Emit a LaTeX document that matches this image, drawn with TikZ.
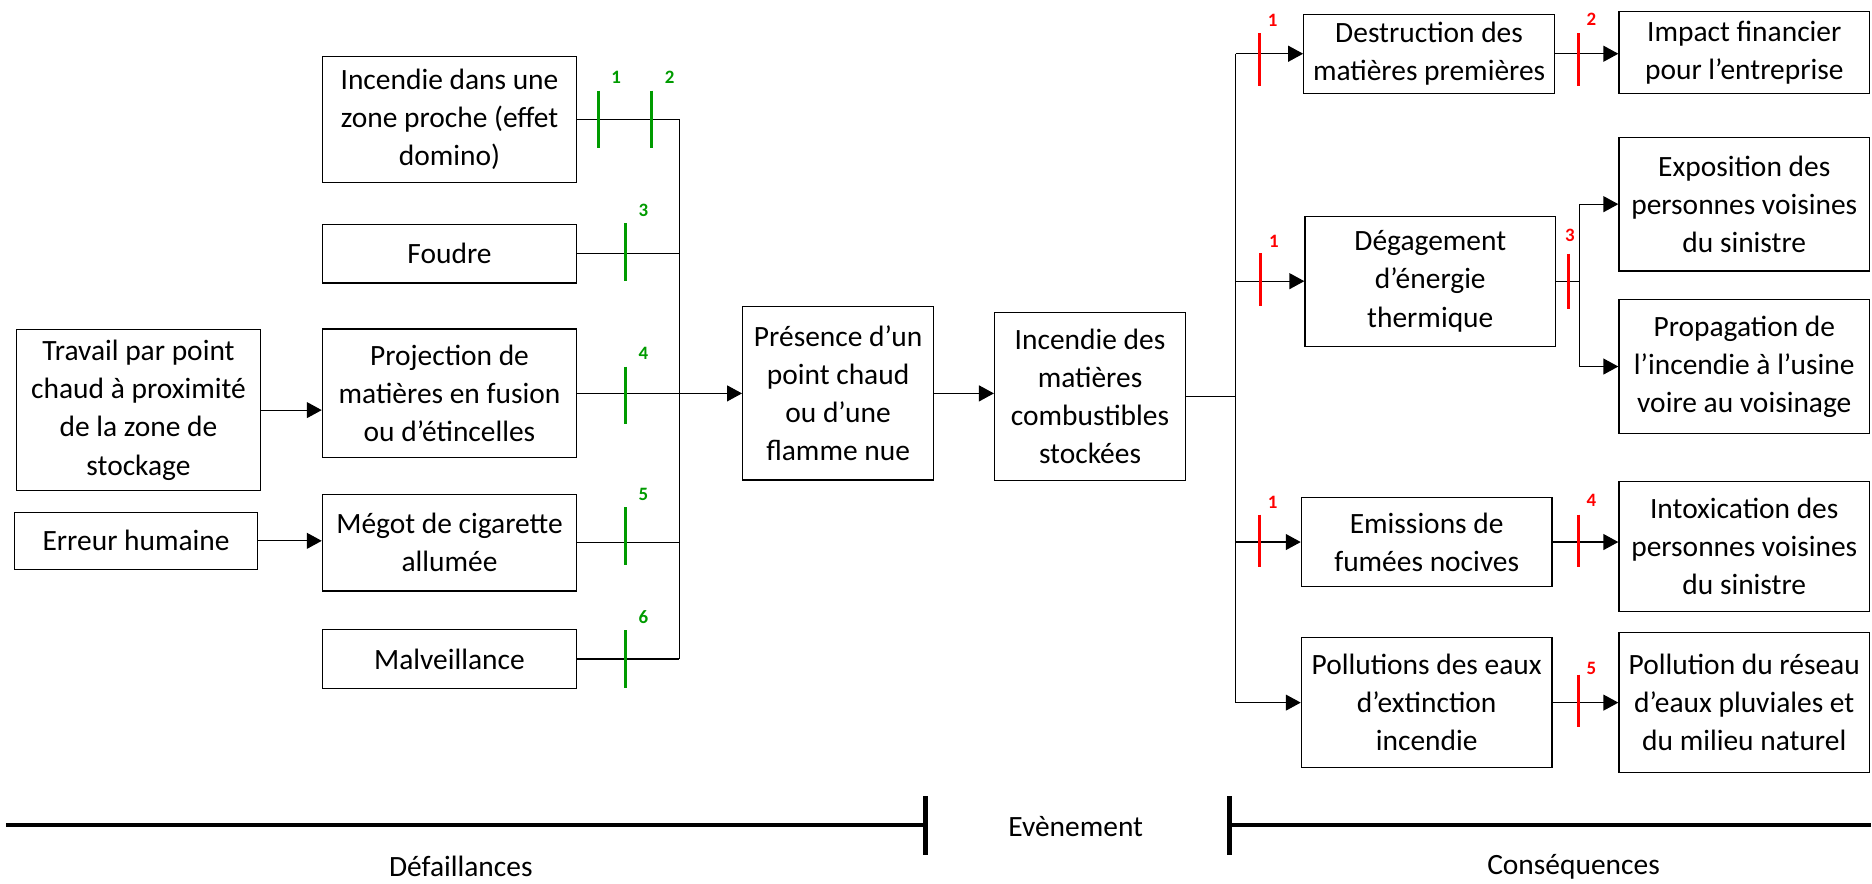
\documentclass[tikz,border=0pt]{standalone}
\usepackage{fontspec}
\setmainfont{Carlito}
\usetikzlibrary{arrows.meta}
\definecolor{tgreen}{RGB}{0,155,0}
\definecolor{tred}{RGB}{255,0,0}
\begin{document}
\begin{tikzpicture}[x=0.6pt,y=-0.6pt,
  box/.style={draw, line width=0.6pt, align=center, inner sep=0pt, font=\fontsize{14.8}{19.2}\selectfont},
  conn/.style={line width=0.6pt},
  arr/.style={conn,-{Triangle[length=7.5pt,width=8pt]}},
  gtick/.style={draw=tgreen, line width=1.4pt},
  rtick/.style={draw=tred, line width=1.4pt},
  gnum/.style={text=tgreen, font=\fontsize{9.5}{9.5}\selectfont\bfseries, inner sep=0pt},
  rnum/.style={text=tred, font=\fontsize{9.5}{9.5}\selectfont\bfseries, inner sep=0pt},
  axisline/.style={line width=2.4pt},
  lbl/.style={font=\fontsize{14.8}{19.2}\selectfont, inner sep=0pt}
]
\useasboundingbox (0,0) rectangle (1568,740);

% left column
\node[box, minimum width=127.8pt, minimum height=63.6pt] (L1) at (376.5,100) {Incendie dans une\\zone proche (effet\\domino)};
\node[box, minimum width=127.8pt, minimum height=29.4pt] (L2) at (376.5,212.5) {Foudre};
\node[box, minimum width=127.8pt, minimum height=64.8pt] (L3) at (376.5,329.5) {Projection de\\matières en fusion\\ou d’étincelles};
\node[box, minimum width=127.8pt, minimum height=48.6pt] (L4) at (376.5,454.5) {Mégot de cigarette\\allumée};
\node[box, minimum width=127.8pt, minimum height=30pt] (L5) at (376.5,552) {Malveillance};
\node[box, minimum width=122.4pt, minimum height=81pt] (T) at (116,343.5) {Travail par point\\chaud à proximité\\de la zone de\\stockage};
\node[box, minimum width=122.4pt, minimum height=28.8pt] (E) at (114,453) {Erreur humaine};

% centre
\node[box, minimum width=96pt, minimum height=87pt] (P) at (702,329.5) {Présence d’un\\point chaud\\ou d’une\\flamme nue};
\node[box, minimum width=96pt, minimum height=84.6pt] (I) at (913,332) {Incendie des\\matières\\combustibles\\stockées};

% right middle column
\node[box, minimum width=126pt, minimum height=39.6pt] (R1) at (1197,45) {Destruction des\\matières premières};
\node[box, minimum width=126pt, minimum height=65.4pt] (R2) at (1198,235.5) {Dégagement\\d’énergie\\thermique};
\node[box, minimum width=126pt, minimum height=44.4pt] (R3) at (1195,454) {Emissions de\\fumées nocives};
\node[box, minimum width=126pt, minimum height=65.4pt] (R4) at (1195,588.5) {Pollutions des eaux\\d’extinction\\incendie};

% right column
\node[box, minimum width=126pt, minimum height=41.4pt] (C1) at (1461,44) {Impact financier\\pour l’entreprise};
\node[box, minimum width=126pt, minimum height=67.2pt] (C2) at (1461,171) {Exposition des\\personnes voisines\\du sinistre};
\node[box, minimum width=126pt, minimum height=67.2pt] (C3) at (1461,307) {Propagation de\\l’incendie à l’usine\\voire au voisinage};
\node[box, minimum width=126pt, minimum height=65.4pt] (C4) at (1461,457.5) {Intoxication des\\personnes voisines\\du sinistre};
\node[box, minimum width=126pt, minimum height=70.2pt] (C5) at (1461,588.5) {Pollution du réseau\\d’eaux pluviales et\\du milieu naturel};

% buses
\coordinate (bL) at (569,0);
\coordinate (bR) at (1035,0);
\coordinate (bD) at (1323,0);

% left connectors
\draw[arr] (T.east) -- (T.east -| L3.west);
\draw[arr] (E.east) -- (E.east -| L4.west);
\draw[conn] (L1.east) -- (L1.east -| bL);
\draw[conn] (L2.east) -- (L2.east -| bL);
\draw[conn] (L4.east) -- (L4.east -| bL);
\draw[conn] (L5.east) -- (L5.east -| bL);
\draw[conn] (L1.east -| bL) -- (L5.east -| bL);
\draw[arr] (L3.east) -- (P.west);
\draw[arr] (P.east) -- (P.east -| I.west);

% right connectors
\draw[conn] (I.east) -- (I.east -| bR);
\draw[conn] (R1.west -| bR) -- (R4.west -| bR);
\draw[arr] (R1.west -| bR) -- (R1.west);
\draw[arr] (R2.west -| bR) -- (R2.west);
\draw[arr] (R3.west -| bR) -- (R3.west);
\draw[arr] (R4.west -| bR) -- (R4.west);
\draw[arr] (R1.east) -- (R1.east -| C1.west);
\draw[conn] (R2.east) -- (R2.east -| bD);
\draw[conn] (C2.west -| bD) -- (C3.west -| bD);
\draw[arr] (C2.west -| bD) -- (C2.west);
\draw[arr] (C3.west -| bD) -- (C3.west);
\draw[arr] (R3.east) -- (R3.east -| C4.west);
\draw[arr] (R4.east) -- (R4.east -| C5.west);

% green ticks
\foreach \x/\y/\n/\nm in {501/100/1/g1, 546/100/2/g2, 524/211/3/g3, 524/331/4/g4, 524/449/5/g5, 524/552/6/g6}{
  \draw[gtick] (\x,\y-24) -- (\x,\y+24);
  \node[gnum] (\nm) at (\x+15,\y-35) {\n};
}
% red ticks: x / centre y / label y / text / name
\foreach \x/\y/\ly/\n/\nm in {1055/50/17/1/r1, 1056/234/202/1/r2, 1055/453/421/1/r3, 1322/50/16/2/r4, 1322/453/419/4/r5, 1322/587/560/5/r6}{
  \draw[rtick] (\x,\y-22) -- (\x,\y+22);
  \node[rnum] (\nm) at (\x+11,\ly) {\n};
}
\draw[rtick] (1314,212.5) -- (1314,258.5);
\node[rnum] (r7) at (1315,197) {3};

% bottom axis
\draw[axisline] (5,691) -- (775,691);
\draw[axisline] (775,667) -- (775,716);
\draw[axisline] (1030,691) -- (1567,691);
\draw[axisline] (1030,667) -- (1030,716);
\node[lbl] (ev) at (901,692) {Evènement};
\node[lbl] (df) at (386,726) {Défaillances};
\node[lbl] (cs) at (1318,726) {Conséquences};
\end{tikzpicture}
\end{document}
